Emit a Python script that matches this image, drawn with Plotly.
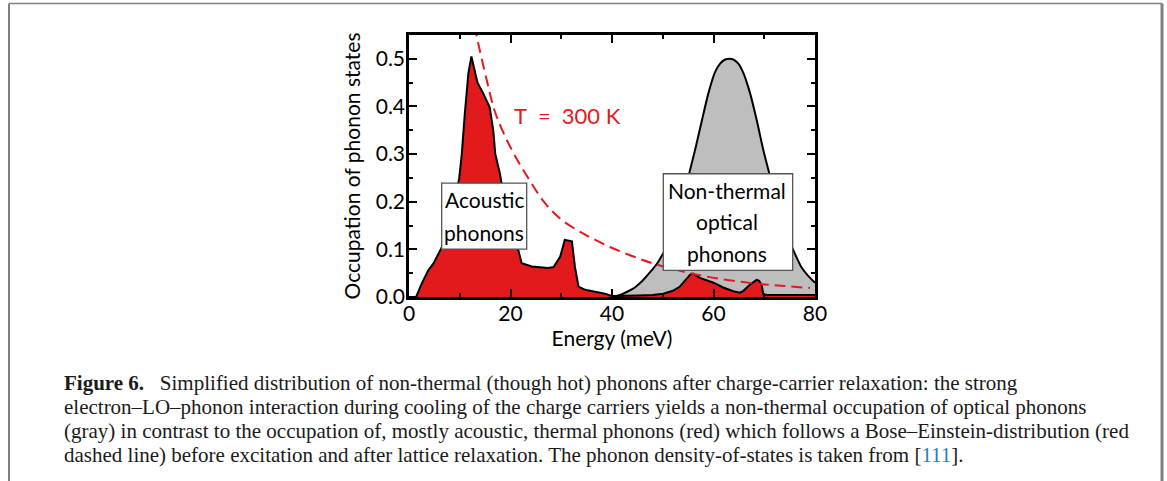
import plotly.graph_objects as go

# ---------------- data ----------------
# thermal (mostly acoustic) phonon occupation – red
red_x = [0, 1.4, 2.5, 3.8, 4.8, 6.4, 7.5, 8.5, 9.3, 9.9, 10.4, 11.0, 11.7, 12.3,
         12.9, 13.5, 14.5, 15.9, 16.6, 17.0, 17.9, 18.2, 19.0, 20.0, 21.0, 21.5,
         22.2, 24.2, 27.4, 28.5, 29.8, 30.7, 32.1, 32.7, 33.4, 34.7, 37.0, 38.6,
         40.0, 42.0, 45.0, 48.0, 50.1, 52.0, 53.4, 55.4, 56.0, 57.3, 60.0, 61.9,
         63.9, 65.2, 65.9, 67.2, 68.5, 69.0, 69.5, 69.8, 70.5, 75.0, 80.0]
red_y = [0, 0, 0.028, 0.056, 0.070, 0.103, 0.140, 0.180, 0.215, 0.250, 0.300,
         0.385, 0.470, 0.505, 0.480, 0.450, 0.430, 0.398, 0.350, 0.300, 0.260,
         0.238, 0.190, 0.140, 0.110, 0.100, 0.071, 0.064, 0.061, 0.063, 0.085,
         0.120, 0.117, 0.063, 0.022, 0.015, 0.010, 0.007, 0.002, 0.002, 0.003,
         0.004, 0.007, 0.013, 0.022, 0.047, 0.049, 0.040, 0.030, 0.020, 0.012,
         0.009, 0.013, 0.026, 0.036, 0.034, 0.025, 0.006, 0.004, 0.004, 0.004]

# non-thermal optical phonon occupation – gray
gray_x = [40.0, 41.5, 43.0, 44.5, 46.0, 47.5, 49.0, 50.1, 51.5, 53.0, 54.2, 55.2,
          56.4, 57.7, 59.0, 60.3, 61.3, 62.2, 63.1, 64.0, 64.9, 65.9, 67.2, 68.5,
          69.8, 71.0, 72.0, 73.3, 74.5, 75.7, 77.3, 78.6, 80.0]
gray_y = [0.0, 0.004, 0.011, 0.020, 0.034, 0.052, 0.072, 0.092, 0.120, 0.160,
          0.210, 0.259, 0.310, 0.370, 0.428, 0.472, 0.490, 0.498, 0.500, 0.498,
          0.490, 0.470, 0.428, 0.372, 0.309, 0.259, 0.215, 0.165, 0.130, 0.099,
          0.063, 0.045, 0.030]

# Bose-Einstein distribution, T = 300 K – red dashed
be_x = [13.0, 13.3, 15.3, 16.9, 18.6, 20.6, 22.9, 26.8, 30.1, 34.0, 36.3, 39.6,
        44.2, 48.8, 55.4, 61.9, 68.5, 74.0, 79.0]
be_y = [0.570, 0.550, 0.456, 0.390, 0.345, 0.302, 0.260, 0.197, 0.162, 0.135,
        0.122, 0.105, 0.085, 0.068, 0.050, 0.037, 0.028, 0.023, 0.019]

x_ticks = [0, 20, 40, 60, 80]
y_ticks = [0.0, 0.1, 0.2, 0.3, 0.4, 0.5]

caption_lines = [
    "<b>Figure 6.</b>\u2002 Simplified distribution of non-thermal (though hot) phonons after charge-carrier relaxation: the strong",
    "electron\u2013LO\u2013phonon interaction during cooling of the charge carriers yields a non-thermal occupation of optical phonons",
    "(gray) in contrast to the occupation of, mostly acoustic, thermal phonons (red) which follows a Bose\u2013Einstein-distribution (red",
    "dashed line) before excitation and after lattice relaxation. The phonon density-of-states is taken from [<span style='color:#2b7bbd'>111</span>].",
]

RED = "#E31A1C"
GRAY = "#BEBEBE"
SANS = "Lato"
SERIF = "Liberation Serif"

# ---------------- figure ----------------
W, H = 1167, 481
L, R, T, B = 409, 352, 35, 184
PW, PH = W - L - R, H - T - B


def px(xp):
    return (xp - L) / PW


def py(yp):
    return (H - B - yp) / PH


fig = go.Figure()
fig.add_trace(go.Scatter(x=gray_x, y=gray_y, mode="lines", fill="tozeroy",
                         line_shape="spline", fillcolor=GRAY,
                         line=dict(color="black", width=2, smoothing=0.6),
                         hoverinfo="skip", showlegend=False))
fig.add_trace(go.Scatter(x=red_x, y=red_y, mode="lines", fill="tozeroy",
                         fillcolor=RED, line=dict(color="black", width=2),
                         hoverinfo="skip", showlegend=False))
fig.add_trace(go.Scatter(x=be_x, y=be_y, mode="lines", line_shape="spline",
                         line=dict(color=RED, width=2, dash="11px,6px"),
                         hoverinfo="skip", showlegend=False))

axis_common = dict(showline=True, linecolor="black", linewidth=2.5,
                   mirror="allticks", ticks="inside", ticklen=8, tickwidth=2,
                   tickcolor="black", showgrid=False, zeroline=False,
                   tickfont=dict(family=SANS, size=21, color="black"))

fig.update_xaxes(range=[0, 80], tickvals=x_ticks,
                 ticktext=[str(v) for v in x_ticks],
                 ticklabelstandoff=-4,
                 minor=dict(dtick=10, tick0=0, ticklen=4, tickwidth=2,
                            ticks="inside", tickcolor="black"),
                 title=dict(text="Energy (meV)", font=dict(family=SANS, size=21, color="black"),
                            standoff=2),
                 **axis_common)
fig.update_yaxes(range=[0, 0.55], tickvals=y_ticks,
                 ticktext=[f"{v:.1f}" for v in y_ticks],
                 ticklabelstandoff=-3,
                 minor=dict(dtick=0.05, tick0=0, ticklen=4, tickwidth=2,
                            ticks="inside", tickcolor="black"),
                 title=dict(text="Occupation of phonon states",
                            font=dict(family=SANS, size=21, color="black"), standoff=10),
                 **axis_common)

# label boxes
shapes = [
    dict(type="rect", xref="x", yref="y", x0=6.44, x1=23.19, y0=0.1007, y1=0.239,
         fillcolor="white", line=dict(color="#555555", width=1.3), layer="above"),
    dict(type="rect", xref="x", yref="y", x0=50.11, x1=75.6, y0=0.0558, y1=0.2587,
         fillcolor="white", line=dict(color="#555555", width=1.3), layer="above"),
]
# outer frame of the figure page
shapes += [
    dict(type="line", xref="paper", yref="paper", x0=px(9), x1=px(9), y0=py(3.5), y1=py(490),
         line=dict(color="#808080", width=2)),
    dict(type="line", xref="paper", yref="paper", x0=px(9), x1=px(1162), y0=py(3.5), y1=py(3.5),
         line=dict(color="#808080", width=1.5)),
    dict(type="line", xref="paper", yref="paper", x0=px(1162), x1=px(1162), y0=py(3.5), y1=py(490),
         line=dict(color="#808080", width=3)),
]

annotations = []
lab_font = dict(family=SANS, size=21, color="black")
for txt, yy in [("Acoustic", 0.2045), ("phonons", 0.1353)]:
    annotations.append(dict(x=14.8, y=yy, xref="x", yref="y", text=txt, showarrow=False,
                            font=lab_font, xanchor="center", yanchor="middle"))
for txt, yy in [("Non-thermal", 0.2237), ("optical", 0.1586), ("phonons", 0.0923)]:
    annotations.append(dict(x=62.6, y=yy, xref="x", yref="y", text=txt, showarrow=False,
                            font=lab_font, xanchor="center", yanchor="middle"))
annotations.append(dict(x=31.2, y=0.381, xref="x", yref="y", text="T\u2002=\u2002300 K",
                        showarrow=False, font=dict(family=SANS, size=22, color=RED),
                        xanchor="center", yanchor="middle"))

for i, line in enumerate(caption_lines):
    annotations.append(dict(x=px(62), y=py(383 + 24 * i), xref="paper", yref="paper",
                            text=line, showarrow=False, xanchor="left", yanchor="middle",
                            font=dict(family=SERIF, size=21, color="#1a1a1a")))

fig.update_layout(width=W, height=H, margin=dict(l=L, r=R, t=T, b=B, autoexpand=False),
                  paper_bgcolor="white", plot_bgcolor="white",
                  shapes=shapes, annotations=annotations, showlegend=False)

fig.write_html("out.html", config={"displayModeBar": False},
               post_script="document.body.style.margin='0px';")
